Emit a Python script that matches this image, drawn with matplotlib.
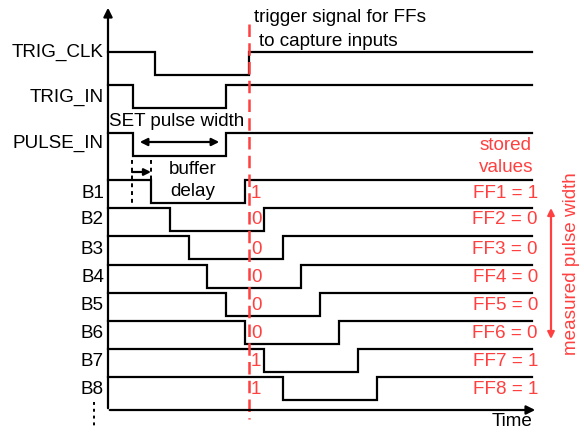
import matplotlib.pyplot as plt
from matplotlib.patches import FancyArrowPatch

plt.rcParams['font.family'] = ['Liberation Sans', 'DejaVu Sans']

RED = '#ff4040'
FS = 13.6

# signal rows: name, high level, falling edge, rising edge (pixel units)
names = ["TRIG_CLK", "TRIG_IN", "PULSE_IN", "B1", "B2", "B3", "B4", "B5", "B6", "B7", "B8"]
high_y = [52, 85, 133, 180, 208, 236, 265, 293, 321, 349, 377]
fall_x = [155, 133, 133, 151, 170, 189, 207, 226, 245, 264, 283]
rise_x = [249, 226, 226, 245, 264, 283, 301, 320, 339, 358, 377]
label_y = [52, 97, 143, 193, 220, 249, 277, 305, 333, 361, 389]
swing = 23

x0, x_end = 108, 532     # time axis origin / end of traces
trigger_x = 249          # FF capture edge

fig = plt.figure(figsize=(5.84, 4.32), dpi=100)
ax = fig.add_axes([0, 0, 1, 1])
ax.set_xlim(0, 584)
ax.set_ylim(432, 0)
ax.axis('off')

lw = 1.6
# axes arrows
ax.annotate('', xy=(x0, 5), xytext=(x0, 411),
            arrowprops=dict(arrowstyle='-|>', color='black', lw=lw, mutation_scale=13))
ax.annotate('', xy=(538, 410), xytext=(107, 410),
            arrowprops=dict(arrowstyle='-|>', color='black', lw=lw, mutation_scale=13))
ax.text(512, 422, "Time", fontsize=FS, ha='center', va='center')

for i, name in enumerate(names):
    hi, lo = high_y[i], high_y[i] + swing
    xs = [x0, fall_x[i], fall_x[i], rise_x[i], rise_x[i], x_end]
    ys = [hi, hi, lo, lo, hi, hi]
    ax.plot(xs, ys, color='black', lw=lw, solid_joinstyle='miter')
    ax.text(104, label_y[i], name, fontsize=FS, ha='right', va='center')

# flip-flop values captured at the trigger edge
for i in range(3, len(names)):
    bit = 1 if (trigger_x < fall_x[i] or trigger_x > rise_x[i]) else 0
    ax.text(251, label_y[i], str(bit), color=RED, fontsize=FS, ha='left', va='center')
    ax.text(538, label_y[i], f"FF{i - 2} = {bit}", color=RED, fontsize=FS,
            ha='right', va='center')

ax.text(506, 145, "stored", color=RED, fontsize=FS, ha='center', va='center')
ax.text(506, 168, "values", color=RED, fontsize=FS, ha='center', va='center')

# capture trigger line
ax.plot([trigger_x, trigger_x], [24, 419], color=RED, lw=1.8, dashes=(5, 2.5))
ax.text(254, 18, "trigger signal for FFs", fontsize=FS, ha='left', va='center')
ax.text(259, 41, "to capture inputs", fontsize=FS, ha='left', va='center')

# SET pulse width annotation
ax.text(109, 121, "SET pulse width", fontsize=FS, ha='left', va='center')
ax.add_patch(FancyArrowPatch((137, 142), (222, 142), arrowstyle='<|-|>',
                             mutation_scale=11, color='black', lw=lw))

# buffer delay annotation
ax.plot([132, 132], [160, 203], color='black', lw=1.4, dashes=(2, 2))
ax.plot([151, 151], [160, 179], color='black', lw=1.4, dashes=(2, 2))
ax.add_patch(FancyArrowPatch((132, 172), (151, 172), arrowstyle='-|>',
                             mutation_scale=10, color='black', lw=lw,
                             shrinkA=0, shrinkB=0))
ax.text(193, 169, "buffer", fontsize=FS, ha='center', va='center')
ax.text(193, 192, "delay", fontsize=FS, ha='center', va='center')

# continuation dots under B8
ax.plot([94, 94], [402, 428], color='black', lw=1.4, dashes=(1.5, 2))

# measured pulse width
ax.add_patch(FancyArrowPatch((551, 208), (551, 339), arrowstyle='<|-|>',
                             mutation_scale=10, color=RED, lw=lw,
                             shrinkA=0, shrinkB=0))
ax.text(571, 264, "measured pulse width", color=RED, fontsize=FS, rotation=90,
        ha='center', va='center')

fig.savefig('out.png', dpi=100)
